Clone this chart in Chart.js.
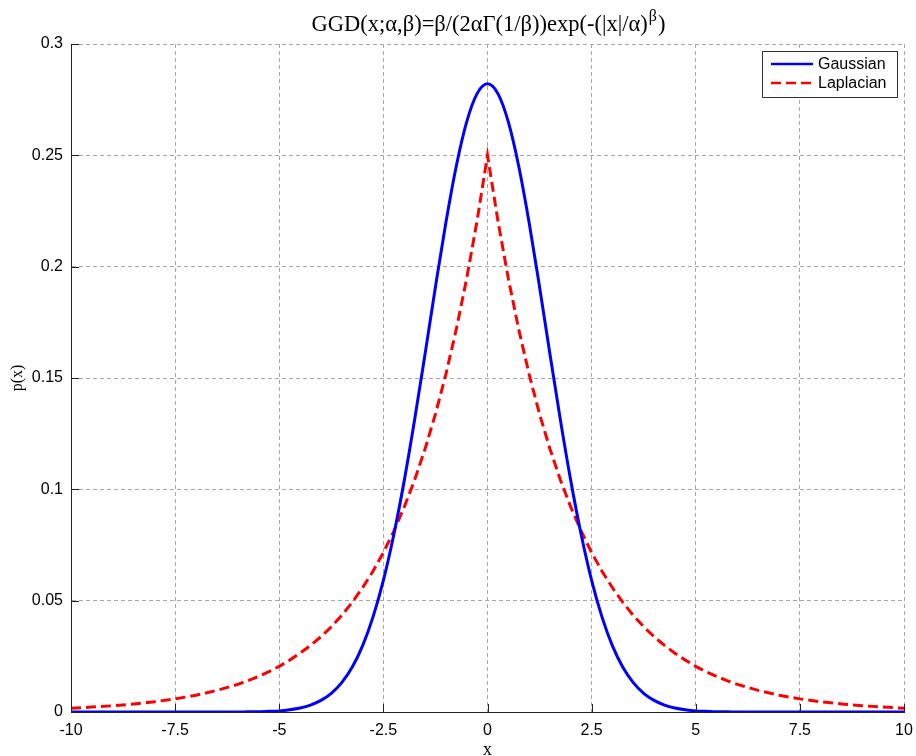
<!DOCTYPE html>
<html>
<head>
<meta charset="utf-8">
<title>GGD</title>
<script src="https://cdn.jsdelivr.net/npm/chart.js@4.4.0/dist/chart.umd.min.js"></script>
<style>
    body { margin: 0; background: #fff; }
    #wrap { width: 916px; height: 756px; }
</style>
</head>
<body>
<div id="wrap"><canvas id="ggdChart" width="916" height="756"></canvas></div>
<script>
// valores de x (passo menor perto do pico)
const xValues = [
    -10, -9.5, -9, -8.5, -8, -7.5, -7, -6.5, -6,
    -5.75, -5.5, -5.25, -5, -4.75, -4.5, -4.25, -4,
    -3.75, -3.5, -3.25, -3, -2.75, -2.5, -2.25, -2, -1.75, -1.5, -1.25, -1, -0.75, -0.5, -0.25,
    0,
    0.25, 0.5, 0.75, 1, 1.25, 1.5, 1.75, 2, 2.25, 2.5, 2.75, 3, 3.25, 3.5, 3.75,
    4, 4.25, 4.5, 4.75, 5, 5.25, 5.5, 5.75,
    6, 6.5, 7, 7.5, 8, 8.5, 9, 9.5, 10
];

// curva gaussiana (beta = 2)
const gaussian = [
    0, 0, 0, 0, 0, 0, 0, 0, 0,
    0.0001, 0.0001, 0.0003, 0.0005, 0.0010, 0.0018, 0.0031, 0.0052,
    0.0084, 0.0132, 0.0201, 0.0297, 0.0426, 0.0591, 0.0796, 0.1038, 0.1312, 0.1607, 0.1909, 0.2197, 0.2451, 0.2650, 0.2777,
    0.2821,
    0.2777, 0.2650, 0.2451, 0.2197, 0.1909, 0.1607, 0.1312, 0.1038, 0.0796, 0.0591, 0.0426, 0.0297, 0.0201, 0.0132, 0.0084,
    0.0052, 0.0031, 0.0018, 0.0010, 0.0005, 0.0003, 0.0001, 0.0001,
    0, 0, 0, 0, 0, 0, 0, 0, 0
];

// curva laplaciana (beta = 1)
const laplacian = [
    0.0017, 0.0022, 0.0028, 0.0036, 0.0046, 0.0059, 0.0075, 0.0097, 0.0124,
    0.0141, 0.0160, 0.0181, 0.0205, 0.0233, 0.0264, 0.0299, 0.0338,
    0.0383, 0.0434, 0.0492, 0.0558, 0.0632, 0.0716, 0.0812, 0.0920, 0.1042, 0.1181, 0.1338, 0.1516, 0.1718, 0.1947, 0.2206,
    0.25,
    0.2206, 0.1947, 0.1718, 0.1516, 0.1338, 0.1181, 0.1042, 0.0920, 0.0812, 0.0716, 0.0632, 0.0558, 0.0492, 0.0434, 0.0383,
    0.0338, 0.0299, 0.0264, 0.0233, 0.0205, 0.0181, 0.0160, 0.0141,
    0.0124, 0.0097, 0.0075, 0.0059, 0.0046, 0.0036, 0.0028, 0.0022, 0.0017
];

const xTickLabels = ['-10', '-7.5', '-5', '-2.5', '0', '2.5', '5', '7.5', '10'];
const yTickLabels = ['0', '0.05', '0.1', '0.15', '0.2', '0.25', '0.3'];

const seriesNames = ['Gaussian', 'Laplacian'];

const sansFont = '"Liberation Sans", Arial, sans-serif';
const serifFont = '"Liberation Serif", "Times New Roman", serif';

function toPoints(ys) {
    return xValues.map((x, i) => ({ x: x, y: ys[i] }));
}

// título, rótulos dos eixos, marcas internas e legenda
const extras = {
    id: 'extras',
    afterDraw(chart) {
        const ctx = chart.ctx;
        const area = chart.chartArea;
        const cx = (area.left + area.right) / 2;
        ctx.save();

        // título com expoente beta
        const mainText = 'GGD(x;\u03B1,\u03B2)=\u03B2/(2\u03B1\u0393(1/\u03B2))exp(-(|x|/\u03B1)';
        const supText = '\u03B2';
        const endText = ')';
        ctx.fillStyle = '#000';
        ctx.textBaseline = 'alphabetic';
        ctx.textAlign = 'left';
        ctx.font = '22.5px ' + serifFont;
        const w1 = ctx.measureText(mainText).width;
        const w3 = ctx.measureText(endText).width;
        ctx.font = '16px ' + serifFont;
        const w2 = ctx.measureText(supText).width;
        let tx = cx - (w1 + w2 + w3) / 2;
        const ty = 31;
        ctx.font = '22.5px ' + serifFont;
        ctx.fillText(mainText, tx, ty);
        tx += w1;
        ctx.font = '16px ' + serifFont;
        ctx.fillText(supText, tx + 1, ty - 10);
        tx += w2 + 2;
        ctx.font = '22.5px ' + serifFont;
        ctx.fillText(endText, tx, ty);

        // rótulos dos eixos
        ctx.font = '18px ' + serifFont;
        ctx.textAlign = 'center';
        ctx.fillText('x', cx, 755);
        ctx.save();
        ctx.translate(22, (area.top + area.bottom) / 2);
        ctx.rotate(-Math.PI / 2);
        ctx.font = '16px ' + serifFont;
        ctx.fillText('p(x)', 0, 0);
        ctx.restore();

        // marcas internas nos eixos
        ctx.strokeStyle = '#222';
        ctx.lineWidth = 1;
        ctx.setLineDash([]);
        const xs = chart.scales.x;
        const ys = chart.scales.y;
        ctx.beginPath();
        xs.ticks.forEach(t => {
            const px = Math.round(xs.getPixelForValue(t.value)) + 0.5;
            ctx.moveTo(px, area.bottom);
            ctx.lineTo(px, area.bottom - 8);
        });
        ys.ticks.forEach(t => {
            const py = Math.round(ys.getPixelForValue(t.value)) + 0.5;
            ctx.moveTo(area.left, py);
            ctx.lineTo(area.left + 8, py);
        });
        ctx.stroke();

        // legenda
        const boxW = 135, boxH = 46;
        const bx = area.right - 7 - boxW;
        const by = area.top + 7;
        ctx.fillStyle = '#fff';
        ctx.fillRect(bx, by, boxW, boxH);
        ctx.strokeStyle = '#333';
        ctx.strokeRect(bx + 0.5, by + 0.5, boxW, boxH);
        ctx.font = '16px ' + sansFont;
        ctx.textAlign = 'left';
        ctx.textBaseline = 'middle';
        chart.data.datasets.forEach((ds, i) => {
            const ly = by + 13 + i * 19;
            ctx.strokeStyle = ds.borderColor;
            ctx.lineWidth = 2.5;
            ctx.setLineDash(ds.borderDash || []);
            ctx.beginPath();
            ctx.moveTo(bx + 9, ly);
            ctx.lineTo(bx + 51, ly);
            ctx.stroke();
            ctx.setLineDash([]);
            ctx.fillStyle = '#000';
            ctx.fillText(ds.label, bx + 56, ly + 1);
        });
        ctx.restore();
    }
};

const ctx = document.getElementById('ggdChart').getContext('2d');
const chart = new Chart(ctx, {
    type: 'line',
    data: {
        datasets: [{
            label: seriesNames[0],
            data: toPoints(gaussian),
            borderColor: '#0000ff',
            borderWidth: 3,
            pointRadius: 0,
            cubicInterpolationMode: 'monotone',
            fill: false
        }, {
            label: seriesNames[1],
            data: toPoints(laplacian),
            borderColor: '#ff0000',
            borderWidth: 3,
            borderDash: [10, 5],
            pointRadius: 0,
            tension: 0,
            fill: false
        }]
    },
    options: {
        responsive: false,
        animation: false,
        devicePixelRatio: 1,
        layout: { padding: { top: 44, right: 12, left: 0, bottom: 0 } },
        plugins: {
            legend: { display: false },
            tooltip: { enabled: false },
            title: { display: false }
        },
        scales: {
            x: {
                type: 'linear',
                min: -10,
                max: 10,
                afterFit: scale => {
                    scale.height = 44;
                    scale.paddingLeft = 0;
                    scale.paddingRight = 0;
                },
                ticks: {
                    stepSize: 2.5,
                    padding: 9,
                    color: '#000',
                    font: { family: sansFont, size: 16 },
                    maxRotation: 0,
                    callback: (value, index) => xTickLabels[index]
                },
                grid: { color: '#a8a8a8', drawTicks: false },
                border: { display: true, color: '#222', width: 1, dash: [4, 3] }
            },
            y: {
                type: 'linear',
                min: 0,
                max: 0.3,
                afterFit: scale => { scale.width = 71; },
                ticks: {
                    stepSize: 0.05,
                    padding: 8,
                    color: '#000',
                    font: { family: sansFont, size: 16 },
                    callback: (value, index) => yTickLabels[index]
                },
                grid: { color: '#a8a8a8', drawTicks: false },
                border: { display: true, color: '#222', width: 1, dash: [4, 3] }
            }
        }
    },
    plugins: [extras]
});
</script>
</body>
</html>
